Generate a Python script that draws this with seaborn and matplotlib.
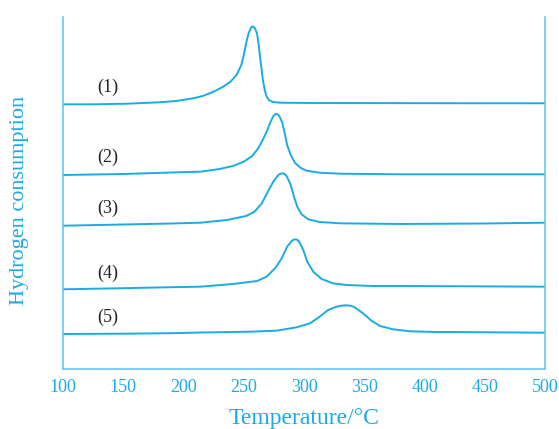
import pandas as pd
import numpy as np
import seaborn as sns
import matplotlib.pyplot as plt
import matplotlib.ticker as mticker

# TPR profiles (temperature in C, signal in arbitrary units)
t1 = [100, 125, 153, 180, 194, 208, 216, 225, 233, 239, 244, 248, 250, 252, 254, 256, 257.4,
      259, 261, 262.4, 264, 265.7, 267.4, 269, 271, 274.5, 280, 305, 400, 500]
s1 = [264.7, 264.7, 265.3, 266.7, 268, 270.7, 273, 277.3, 282.3, 287.3, 294, 304, 314, 325.7,
      335.7, 341.3, 342.7, 341.3, 335.7, 324, 307.3, 290.7, 279, 272.3, 268.7, 267, 266.3, 266,
      265.8, 265.7]

t2 = [100, 150, 190, 214, 230, 241, 250, 257, 262, 266, 269, 272, 274, 275.5, 276.8, 278.2,
      279.5, 282, 284, 286, 289, 292.5, 297, 302, 313, 330, 380, 500]
s2 = [194, 195, 196.5, 197.3, 200, 203, 207.3, 213, 220.7, 229.7, 237.3, 246.3, 251.7, 254.2,
      255, 254.6, 253, 246.3, 235.7, 224, 214, 206.3, 201.3, 198.3, 196.3, 195.3, 194.7, 194.7]

t3 = [100, 150, 190, 214, 236, 252, 259, 265, 270, 274.5, 278.7, 280.5, 282.3, 284, 285.6, 289,
      291.7, 294.4, 298, 303.6, 313, 330, 380, 450, 500]
s3 = [143.3, 144.5, 145.5, 146.3, 149, 153, 157.3, 165.7, 177.3, 187.3, 194, 195.3, 195.7, 195,
      193, 184, 172.3, 162.3, 154.7, 149.7, 147, 145.7, 145, 145.5, 146.3]

t4 = [100, 150, 190, 214, 241, 261, 269, 276, 281.5, 286, 289.8, 291.5, 293.1, 294.6, 296,
      299.4, 302.7, 307.7, 314.7, 324, 335, 357, 380, 440, 500]
s4 = [79.7, 80.8, 81.8, 82.3, 85, 88, 92.3, 100.7, 110.7, 122.3, 128, 129.3, 129.7, 129,
      127.3, 119, 107.3, 97.3, 90, 85.7, 84, 83, 83, 82.7, 82.3]

t5 = [100, 150, 190, 215, 255, 277, 294, 305, 313, 320, 327, 331, 335, 339, 342, 349, 356, 363,
      374, 388, 410, 421, 500]
s5 = [35, 35.3, 35.8, 36.5, 37.3, 38.3, 41.7, 45.7, 52.3, 59, 62.3, 63.3, 63.7, 63.2, 61.7,
      55.7, 48.3, 43, 39.7, 37.7, 37, 37, 36.3]

labels = ['(1)', '(2)', '(3)', '(4)', '(5)']
label_x = [137, 137, 137, 137, 137]
label_y = [282, 212, 160.7, 96, 51.3]

frames = []
for name, t, s in zip(labels, [t1, t2, t3, t4, t5], [s1, s2, s3, s4, s5]):
    frames.append(pd.DataFrame({'sample': name, 'T': t, 'signal': s}))
df = pd.concat(frames, ignore_index=True)

blue = '#1AABE5'
spine_blue = '#5CC2EC'

sns.set_style('white')
plt.rcParams['font.family'] = ['Liberation Serif', 'DejaVu Serif']

fig = plt.figure(figsize=(5.59, 4.29), dpi=100)
ax = fig.add_axes([63 / 559, 60 / 429, 482 / 559, 352 / 429])

sns.lineplot(data=df, x='T', y='signal', units='sample', estimator=None,
             color=blue, linewidth=1.4, ax=ax, sort=False)

for lab, x, y in zip(labels, label_x, label_y):
    ax.text(x, y, lab, ha='center', va='center', fontsize=13, color='#222222')

ax.set_xlim(100, 500)
ax.set_ylim(0, 352)
ax.xaxis.set_major_locator(mticker.MultipleLocator(50))
ax.xaxis.set_minor_locator(mticker.MultipleLocator(25))
ax.tick_params(axis='x', which='major', direction='in', length=5, width=1,
               color=spine_blue, labelsize=13, labelcolor=blue, pad=7)
ax.tick_params(axis='x', which='minor', direction='in', length=3, width=1, color=spine_blue)
ax.set_yticks([])

for side in ['left', 'right', 'bottom']:
    ax.spines[side].set_color(spine_blue)
    ax.spines[side].set_linewidth(1.1)
ax.spines['top'].set_visible(False)

ax.set_xlabel('Temperature/°C', fontsize=17, color=blue, labelpad=9)
ax.set_ylabel('Hydrogen consumption', fontsize=16, color=blue)
ax.yaxis.set_label_coords(-0.07, 0.48)

fig.savefig('out.png', dpi=100)
